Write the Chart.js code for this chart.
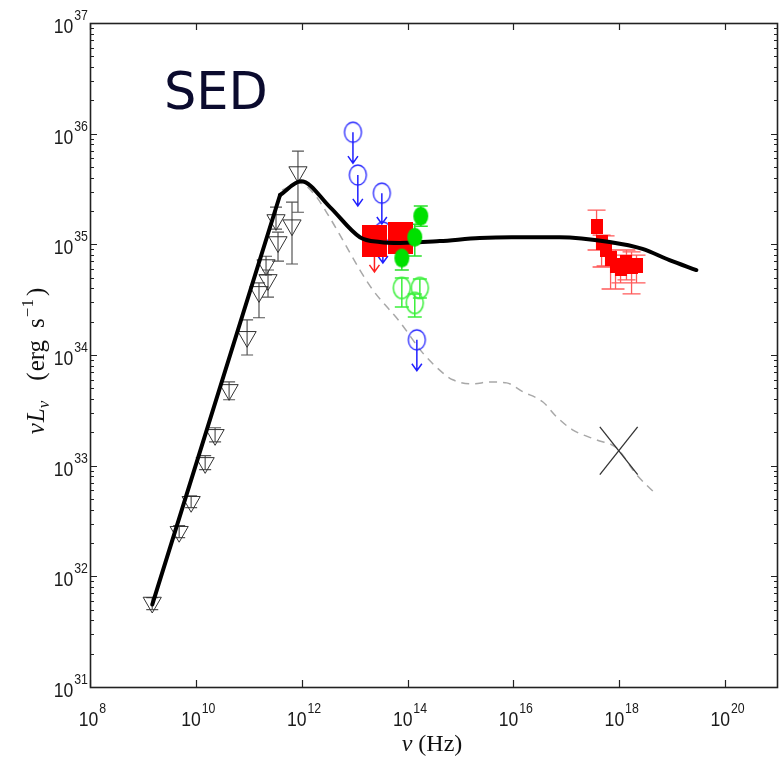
<!DOCTYPE html>
<html>
<head>
<meta charset="utf-8">
<script src="https://cdn.jsdelivr.net/npm/chart.js@4.4.1/dist/chart.umd.min.js"></script>
<style>
  html, body { margin: 0; padding: 0; background: #fff; overflow: hidden; }
  #wrap { width: 779px; height: 758px; }
  canvas { display: block; }
</style>
</head>
<body>
<div id="wrap"><canvas id="sedChart" width="779" height="758" style="width:779px;height:758px"></canvas></div>
<script>
// frequency (Hz) and luminosity nuL_nu (erg/s)

// radio / mm points (open triangles)
const radioNu = [1.50e9, 4.84e9, 8.15e9, 1.50e10, 2.31e10, 4.25e10, 9.3e10, 1.56e11, 2.31e11, 2.12e11, 3.57e11, 3.27e11, 6.56e11, 8.5e11];
const radioL  = [5.8e31, 2.53e32, 4.72e32, 1.06e33, 1.90e33, 4.84e33, 1.46e34, 3.72e34, 4.77e34, 6.5e34, 1.05e35, 1.66e35, 1.49e35, 4.5e35];
const radioHi = [6.43e31, 2.87e32, 5.35e32, 1.23e33, 2.2e33, 5.71e33, 2.08e34, 4.48e34, 5.86e34, 7.8e34, 1.29e35, 2.17e35, 2.41e35, 6.95e35];
const radioLo = [5.0e31, 2.24e32, 4.17e32, 9.2e32, 1.64e33, 3.94e33, 1.0e34, 2.17e34, 3.34e34, 5.3e34, 7.06e34, 1.37e35, 6.64e34, 1.95e35];

// mid-IR upper limits (blue open circles)
const midIrNu = [9.3e12, 1.15e13, 3.27e13, 3.42e13, 1.50e14];
const midIrL  = [1.03e36, 4.23e35, 2.9e35, 1.29e35, 1.37e34];

// near-IR (large red squares); first one is an upper limit
const nirNu    = [2.37e13, 7.48e13];
const nirL     = [1.07e35, 1.13e35];
const nirUpper = [true, false];

// optical / IR (filled green circles)
const optNu = [1.78e14, 1.37e14, 7.8e13];
const optL  = [1.80e35, 1.16e35, 7.52e34];
const optHi = [2.22e35, 1.52e35, 9.27e34];
const optLo = [1.46e35, 7.83e34, 5.86e34];

// optical, other epoch (open green circles)
const opt2Nu = [7.8e13, 1.71e14, 1.37e14];
const opt2L  = [4.04e34, 4.04e34, 2.96e34];
const opt2Hi = [4.97e34, 4.87e34, 3.56e34];
const opt2Lo = [2.72e34, 3.28e34, 2.21e34];

// X-ray points (small red squares)
const xrayNu = [3.73e17, 4.64e17, 5.52e17, 6.86e17, 8.51e17, 1.06e18, 1.37e18, 1.71e18, 2.12e18];
const xrayL  = [1.46e35, 1.03e35, 8.89e34, 7.52e34, 6.5e34, 6.11e34, 6.92e34, 6.37e34, 6.5e34];
const xrayHi = [2.04e35, 1.21e35, 1.19e35, 1.01e35, 8.89e34, 8.0e34, 8.89e34, 8.53e34, 8.0e34];
const xrayLo = [8.89e34, 6.24e34, 6.37e34, 3.95e34, 3.95e34, 4.48e34, 4.77e34, 3.56e34, 4.48e34];

// jet model (thick black); straight rise up to the knee
const modelNu = [1.50e9, 3.9e11, 9.7e11, 3.42e12, 1.26e13, 3.0e13, 7.16e13, 4.06e14, 2.31e15, 9.3e15, 7.5e16, 6.6e17, 2.75e18, 8.9e18, 2.87e19];
const modelL  = [5.56e31, 2.79e35, 3.72e35, 2.17e35, 1.16e35, 1.05e35, 1.03e35, 1.07e35, 1.14e35, 1.16e35, 1.16e35, 1.05e35, 9.1e34, 7.2e34, 5.86e34];
const modelKnee = 1;

// low state model (grey dashed)
const lowNu = [4.25e11, 9.3e11, 1.78e12, 3.42e12, 6.0e12, 1.26e13, 2.21e13, 7.16e13, 1.95e14, 4.63e14, 7.16e14, 1.71e15, 3.57e15, 7.48e15, 1.50e16, 3.57e16, 6.56e16, 1.31e17, 3.73e17, 8.9e17, 2.12e18, 5.06e18];
const lowL  = [3.09e35, 3.57e35, 2.79e35, 1.73e35, 1.09e35, 5.86e34, 3.87e34, 1.99e34, 1.04e34, 6.9e33, 5.97e33, 5.48e33, 5.71e33, 5.6e33, 4.66e33, 3.78e33, 2.76e33, 2.11e33, 1.71e33, 1.45e33, 8.3e32, 5.47e32];

// X-ray spectrum bow tie
const bowNu = [4.3e17, 2.23e18];
const bowHi = [2.24e33, 8.3e32];
const bowLo = [8.3e32, 2.24e33];

// axis decades
const xTickExp = [8, 10, 12, 14, 16, 18, 20];
const yTickExp = [31, 32, 33, 34, 35, 36, 37];

const limitDrop = 1.9;

const pts = (xs, ys) => xs.map((v, i) => ({ x: v, y: ys[i] }));

function ellipseMarker(w, h, fill, stroke, lw) {
  const c = document.createElement('canvas');
  c.width = w + 4; c.height = h + 4;
  const g = c.getContext('2d');
  g.beginPath();
  g.ellipse(c.width / 2, c.height / 2, w / 2, h / 2, 0, 0, Math.PI * 2);
  if (fill) { g.fillStyle = fill; g.fill(); }
  if (stroke) { g.strokeStyle = stroke; g.lineWidth = lw; g.stroke(); }
  return c;
}

function rectMarker(w, h, fill) {
  const c = document.createElement('canvas');
  c.width = w; c.height = h;
  const g = c.getContext('2d');
  g.fillStyle = fill;
  g.fillRect(0, 0, w, h);
  return c;
}

const blueCircle = ellipseMarker(17, 20, null, '#2424ff', 1.3);
const greenDot = ellipseMarker(15, 19, '#00e000', null, 0);
const greenRing = ellipseMarker(17, 21, null, '#3cf03c', 1.5);
const bigSquare = rectMarker(25, 32, '#ff0000');
const smallSquare = rectMarker(12, 15, '#ff0000');

const SERIF = "'Liberation Serif', 'DejaVu Serif', serif";
const SANS = "'Liberation Sans', Arial, sans-serif";

function errBars(ctx, x, y, nu, lo, hi, cap, color, lw) {
  ctx.strokeStyle = color;
  ctx.lineWidth = lw;
  ctx.beginPath();
  nu.forEach((v, i) => {
    const px = x.getPixelForValue(v);
    const y1 = y.getPixelForValue(hi[i]);
    const y2 = y.getPixelForValue(lo[i]);
    ctx.moveTo(px, y1); ctx.lineTo(px, y2);
    ctx.moveTo(px - cap, y1); ctx.lineTo(px + cap, y1);
    ctx.moveTo(px - cap, y2); ctx.lineTo(px + cap, y2);
  });
  ctx.stroke();
}

function arrow(ctx, px, y0, y1, color) {
  ctx.strokeStyle = color;
  ctx.lineWidth = 1.5;
  ctx.beginPath();
  ctx.moveTo(px, y0); ctx.lineTo(px, y1);
  ctx.moveTo(px - 5, y1 - 7); ctx.lineTo(px, y1); ctx.lineTo(px + 5, y1 - 7);
  ctx.stroke();
}

// "10" with a raised exponent, condensed a little
function powerLabel(ctx, exp, x, y, align) {
  const sx = 0.88;
  ctx.font = '20px ' + SANS;
  const wb = ctx.measureText('10').width * sx;
  ctx.font = '14px ' + SANS;
  const we = ctx.measureText(String(exp)).width * sx;
  let start;
  if (align === 'center') start = x - (wb + we) / 2;
  else start = x - (wb + we);
  ctx.fillStyle = '#1a1a1a';
  ctx.textAlign = 'left';
  ctx.textBaseline = 'alphabetic';
  ctx.save();
  ctx.translate(start, y);
  ctx.scale(sx, 1);
  ctx.font = '20px ' + SANS;
  ctx.fillText('10', 0, 0);
  ctx.font = '14px ' + SANS;
  ctx.fillText(String(exp), wb / sx + 1, -13);
  ctx.restore();
}

function richText(ctx, parts, cx, cy) {
  let total = 0;
  parts.forEach(p => { ctx.font = p.f; p.w = ctx.measureText(p.t).width + (p.gap || 0); total += p.w; });
  let pos = cx - total / 2;
  ctx.textAlign = 'left';
  ctx.textBaseline = 'alphabetic';
  parts.forEach(p => {
    ctx.font = p.f;
    ctx.fillText(p.t, pos, cy + (p.dy || 0));
    pos += p.w;
  });
}

const overlay = {
  id: 'overlay',
  beforeDatasetsDraw(chart) {
    const { ctx, chartArea: a, scales: { x, y } } = chart;
    ctx.save();
    ctx.beginPath();
    ctx.rect(a.left, a.top, a.right - a.left, a.bottom - a.top);
    ctx.clip();
    errBars(ctx, x, y, radioNu, radioLo, radioHi, 6, '#555', 1.2);
    errBars(ctx, x, y, optNu, optLo, optHi, 7, '#2ae02a', 1.5);
    errBars(ctx, x, y, opt2Nu, opt2Lo, opt2Hi, 7, '#3cf03c', 1.5);
    errBars(ctx, x, y, xrayNu, xrayLo, xrayHi, 9, '#ff5a5a', 1.3);
    midIrNu.forEach((v, i) => {
      arrow(ctx, x.getPixelForValue(v), y.getPixelForValue(midIrL[i]),
        y.getPixelForValue(midIrL[i] / limitDrop), '#2020ff');
    });
    nirNu.forEach((v, i) => {
      if (!nirUpper[i]) return;
      arrow(ctx, x.getPixelForValue(v), y.getPixelForValue(nirL[i]),
        y.getPixelForValue(nirL[i] / limitDrop), '#ff2020');
    });
    ctx.restore();
  },
  afterDraw(chart) {
    const { ctx, chartArea: a, scales: { x, y } } = chart;
    ctx.save();
    ctx.strokeStyle = '#222';
    ctx.lineWidth = 1.2;
    ctx.beginPath();
    xTickExp.forEach(e => {
      const px = Math.round(x.getPixelForValue(Math.pow(10, e))) + 0.5;
      ctx.moveTo(px, a.bottom); ctx.lineTo(px, a.bottom - 7);
      ctx.moveTo(px, a.top); ctx.lineTo(px, a.top + 7);
    });
    yTickExp.forEach((e, i) => {
      const py = Math.round(y.getPixelForValue(Math.pow(10, e))) + 0.5;
      ctx.moveTo(a.left, py); ctx.lineTo(a.left + 7, py);
      ctx.moveTo(a.right, py); ctx.lineTo(a.right - 7, py);
      if (i === yTickExp.length - 1) return;
      for (let k = 2; k <= 9; k++) {
        const pm = Math.round(y.getPixelForValue(k * Math.pow(10, e))) + 0.5;
        ctx.moveTo(a.left, pm); ctx.lineTo(a.left + 4, pm);
        ctx.moveTo(a.right, pm); ctx.lineTo(a.right - 4, pm);
      }
    });
    ctx.stroke();
    ctx.lineWidth = 1.6;
    ctx.strokeRect(a.left + 0.5, a.top + 0.5, a.right - a.left - 1, a.bottom - a.top);

    xTickExp.forEach(e => powerLabel(ctx, e, x.getPixelForValue(Math.pow(10, e)) + 2, a.bottom + 39, 'center'));
    yTickExp.forEach(e => powerLabel(ctx, e, a.left - 3, y.getPixelForValue(Math.pow(10, e)) + 10, 'right'));

    ctx.fillStyle = '#111';
    richText(ctx, [
      { t: 'ν', f: 'italic 24px ' + SERIF, gap: 6 },
      { t: '(Hz)', f: '24px ' + SERIF }
    ], 432, 751);

    ctx.save();
    ctx.translate(36, 361);
    ctx.rotate(-Math.PI / 2);
    richText(ctx, [
      { t: 'ν', f: 'italic 25px ' + SERIF, gap: 1 },
      { t: 'L', f: 'italic 25px ' + SERIF },
      { t: 'ν', f: 'italic 17px ' + SERIF, dy: 5, gap: 20 },
      { t: '(', f: '25px ' + SERIF, gap: 1 },
      { t: 'erg', f: '25px ' + SERIF, gap: 12 },
      { t: 's', f: '25px ' + SERIF, gap: 1 },
      { t: '−1', f: '17px ' + SERIF, dy: -11, gap: 3 },
      { t: ')', f: '25px ' + SERIF }
    ], 0, 8);
    ctx.restore();

    ctx.fillStyle = '#0b0b2e';
    ctx.font = '51px "DejaVu Sans", sans-serif';
    ctx.textAlign = 'left';
    ctx.fillText('SED', 164, 109);
    ctx.restore();
  }
};

const lineStyle = { showLine: true, pointRadius: 0, fill: false };

new Chart(document.getElementById('sedChart'), {
  type: 'scatter',
  data: {
    datasets: [
      { ...lineStyle, data: pts(lowNu, lowL), borderColor: '#a8a8a8', borderWidth: 1.5,
        borderDash: [8, 6], cubicInterpolationMode: 'monotone', order: 9 },
      { ...lineStyle, data: pts(bowNu, bowHi), borderColor: '#333', borderWidth: 1.3, order: 8 },
      { ...lineStyle, data: pts(bowNu, bowLo), borderColor: '#333', borderWidth: 1.3, order: 8 },
      { data: pts(midIrNu, midIrL), pointStyle: blueCircle, order: 7 },
      { data: pts(radioNu, radioL), pointStyle: 'triangle', rotation: 180, pointRadius: 10.5,
        borderColor: '#333', borderWidth: 1, backgroundColor: 'rgba(0,0,0,0)', order: 6 },
      { data: pts(nirNu, nirL), pointStyle: bigSquare, order: 5 },
      { data: pts(xrayNu, xrayL), pointStyle: smallSquare, order: 5 },
      { ...lineStyle, data: pts(modelNu.slice(0, modelKnee + 1), modelL.slice(0, modelKnee + 1)),
        borderColor: '#000', borderWidth: 4, tension: 0, borderCapStyle: 'round', order: 3 },
      { ...lineStyle, data: pts(modelNu.slice(modelKnee), modelL.slice(modelKnee)),
        borderColor: '#000', borderWidth: 4, cubicInterpolationMode: 'monotone',
        borderCapStyle: 'round', borderJoinStyle: 'round', order: 3 },
      { data: pts(opt2Nu, opt2L), pointStyle: greenRing, order: 2 },
      { data: pts(optNu, optL), pointStyle: greenDot, order: 1 }
    ]
  },
  options: {
    responsive: false,
    animation: false,
    events: [],
    layout: { autoPadding: false, padding: { left: 90, right: 1, top: 23, bottom: 71 } },
    plugins: { legend: { display: false }, tooltip: { enabled: false } },
    scales: {
      x: { type: 'logarithmic', min: 1e8, max: 1e21, display: false },
      y: { type: 'logarithmic', min: 1e31, max: 1e37, display: false }
    }
  },
  plugins: [overlay]
});
</script>
</body>
</html>
